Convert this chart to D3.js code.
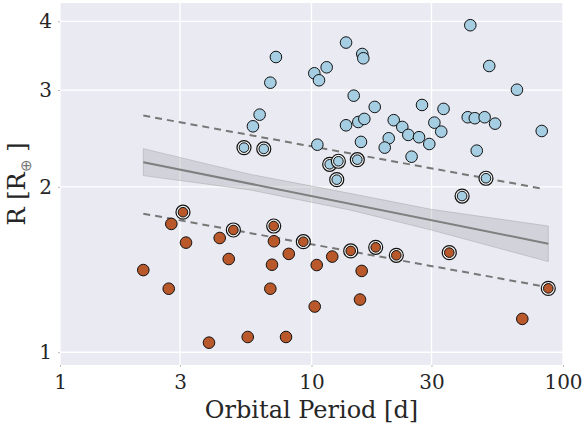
<!DOCTYPE html>
<html>
<head>
<meta charset="utf-8">
<script src="https://cdn.jsdelivr.net/npm/d3@7"></script>
<style>
body { margin: 0; background: #fff; }
svg text { font-family: "DejaVu Serif", serif; fill: #262626; }
</style>
</head>
<body>
<div class="chart"></div>
<script>
// ---- data ----
const bluePeriod = [7.22, 6.86, 6.22, 5.85, 42.8, 13.72, 15.92, 16.07, 11.49, 10.26, 10.71, 50.9, 65.6, 14.72, 17.84, 27.5, 33.5,
	13.72, 15.35, 16.22, 21.23, 22.96, 24.26, 26.76, 29.4, 30.8, 32.8, 41.8, 44.6, 48.8, 53.7, 82.3, 20.28, 19.55, 15.73, 10.55, 25.0, 45.4];
const blueRadius = [3.445, 3.094, 2.706, 2.577, 3.936, 3.66, 3.489, 3.427, 3.30, 3.218, 3.125, 3.318, 3.004, 2.930, 2.795, 2.818, 2.772,
	2.588, 2.624, 2.658, 2.644, 2.570, 2.486, 2.462, 2.393, 2.617, 2.520, 2.677, 2.666, 2.677, 2.606, 2.527, 2.451, 2.357, 2.414, 2.386, 2.269, 2.327];
const blueRingPeriod = [5.39, 6.46, 11.81, 12.79, 15.21, 12.60, 49.4, 39.7];
const blueRingRadius = [2.357, 2.344, 2.198, 2.226, 2.241, 2.061, 2.073, 1.924];

const orangePeriod = [2.771, 3.17, 2.144, 2.706, 4.315, 4.687, 7.09, 8.12, 6.965, 6.86, 3.912, 5.577, 7.92, 10.49, 12.09, 15.83, 10.30, 15.59, 68.9];
const orangeRadius = [1.712, 1.583, 1.411, 1.305, 1.614, 1.478, 1.592, 1.510, 1.443, 1.305, 1.041, 1.066, 1.066, 1.441, 1.493, 1.406, 1.211, 1.247, 1.150];
const orangeRingPeriod = [3.083, 4.89, 7.074, 9.28, 14.32, 18.0, 21.74, 35.3, 87.4];
const orangeRingRadius = [1.798, 1.669, 1.697, 1.589, 1.529, 1.552, 1.501, 1.518, 1.307];

// fit lines and bootstrap band
const fitPeriod = [2.144, 87.4];
const fitRadius = [2.217, 1.576];
const upperPeriod = [2.144, 82.6];
const upperRadius = [2.696, 1.985];
const lowerPeriod = [2.144, 87.4];
const lowerRadius = [1.787, 1.313];
const bandPeriod = [2.144, 5.69, 14.2, 29.9, 87.4];
const bandHigh = [2.347, 2.108, 1.946, 1.820, 1.697];
const bandLow = [2.096, 1.974, 1.815, 1.669, 1.462];

const xTicks = [1, 3, 10, 30, 100];
const yTicks = [1, 2, 3, 4];

// ---- layout ----
const outerW = 586,
	outerH = 426,
	margin = { left: 60, right: 23, top: 3, bottom: 61 };
const w = outerW - margin.left - margin.right,
	h = outerH - margin.top - margin.bottom;

const blue = '#a6cee3',
	orange = '#b9582a';

const x = d3.scaleLog().domain([1, 100]).range([0, w]);
const y = d3.scaleLog().domain([0.948, 4.32]).range([h, 0]);

const svg = d3.select('.chart').append('svg')
	.attr('width', outerW)
	.attr('height', outerH);

const g = svg.append('g')
	.attr('transform', `translate(${margin.left}, ${margin.top})`);

g.append('rect')
	.attr('width', w)
	.attr('height', h)
	.attr('fill', '#eaeaf2');

// grid
g.append('g').selectAll('line')
	.data(xTicks)
	.enter().append('line')
	.attr('x1', d => x(d)).attr('x2', d => x(d))
	.attr('y1', 0).attr('y2', h)
	.attr('stroke', '#fff').attr('stroke-width', 1.3);

g.append('g').selectAll('line')
	.data(yTicks)
	.enter().append('line')
	.attr('x1', 0).attr('x2', w)
	.attr('y1', d => y(d)).attr('y2', d => y(d))
	.attr('stroke', '#fff').attr('stroke-width', 1.3);

// axes
const xAxis = g.append('g')
	.attr('transform', `translate(0, ${h})`)
	.call(d3.axisBottom(x).tickValues(xTicks).tickFormat(d3.format('d')).tickSize(2).tickPadding(8));

const yAxis = g.append('g')
	.call(d3.axisLeft(y).tickValues(yTicks).tickFormat(d3.format('d')).tickSize(2).tickPadding(6));

[xAxis, yAxis].forEach(a => {
	a.select('.domain').remove();
	a.selectAll('line').attr('stroke', '#bbb');
	a.selectAll('text').style('font-family', '"DejaVu Serif", serif').style('font-size', '20px').attr('fill', '#262626');
});

// band + fit lines
const band = bandPeriod.map((p, i) => ({ p, hi: bandHigh[i], lo: bandLow[i] }));
g.append('path')
	.datum(band)
	.attr('d', d3.area().x(d => x(d.p)).y0(d => y(d.lo)).y1(d => y(d.hi)))
	.attr('fill', '#9a9aa2').attr('fill-opacity', 0.3)
	.attr('stroke', '#999').attr('stroke-opacity', 0.5).attr('stroke-width', 0.8);

const line = d3.line().x(d => x(d[0])).y(d => y(d[1]));

g.append('path')
	.datum(d3.zip(fitPeriod, fitRadius))
	.attr('d', line)
	.attr('fill', 'none').attr('stroke', '#7f7f7f').attr('stroke-width', 2);

[[upperPeriod, upperRadius], [lowerPeriod, lowerRadius]].forEach(([p, r]) => {
	g.append('path')
		.datum(d3.zip(p, r))
		.attr('d', line)
		.attr('fill', 'none').attr('stroke', '#777').attr('stroke-width', 2)
		.attr('stroke-dasharray', '7,5');
});

// points
function dots(periods, radii, color) {
	g.append('g').selectAll('circle')
		.data(d3.zip(periods, radii))
		.enter().append('circle')
		.attr('cx', d => x(d[0]))
		.attr('cy', d => y(d[1]))
		.attr('r', 5.8)
		.attr('fill', color)
		.attr('stroke', '#111').attr('stroke-width', 1);
}

function rings(periods, radii, color) {
	const gr = g.append('g').selectAll('g')
		.data(d3.zip(periods, radii))
		.enter().append('g')
		.attr('transform', d => `translate(${x(d[0])}, ${y(d[1])})`);
	gr.append('circle')
		.attr('r', 7)
		.attr('fill', '#f4f4f4')
		.attr('stroke', '#111').attr('stroke-width', 1.2);
	gr.append('circle')
		.attr('r', 4.8)
		.attr('fill', color)
		.attr('stroke', '#111').attr('stroke-width', 1);
}

dots(bluePeriod, blueRadius, blue);
rings(blueRingPeriod, blueRingRadius, blue);
dots(orangePeriod, orangeRadius, orange);
rings(orangeRingPeriod, orangeRingRadius, orange);

// axis titles
svg.append('text')
	.attr('x', margin.left + w / 2)
	.attr('y', 418)
	.attr('text-anchor', 'middle')
	.style('font-size', '24px')
	.text('Orbital Period [d]');

const yl = svg.append('text')
	.attr('transform', `translate(25, ${margin.top + h / 2}) rotate(-90)`)
	.attr('text-anchor', 'middle')
	.style('font-size', '24px');
yl.append('tspan').text('R [R');
yl.append('tspan').attr('dy', 6)
	.style('font-size', '15px').style('font-family', '"DejaVu Sans", sans-serif')
	.style('font-weight', 200).style('fill', '#777')
	.text('⊕');
yl.append('tspan').attr('dy', -6).text(' ]');
</script>
</body>
</html>
